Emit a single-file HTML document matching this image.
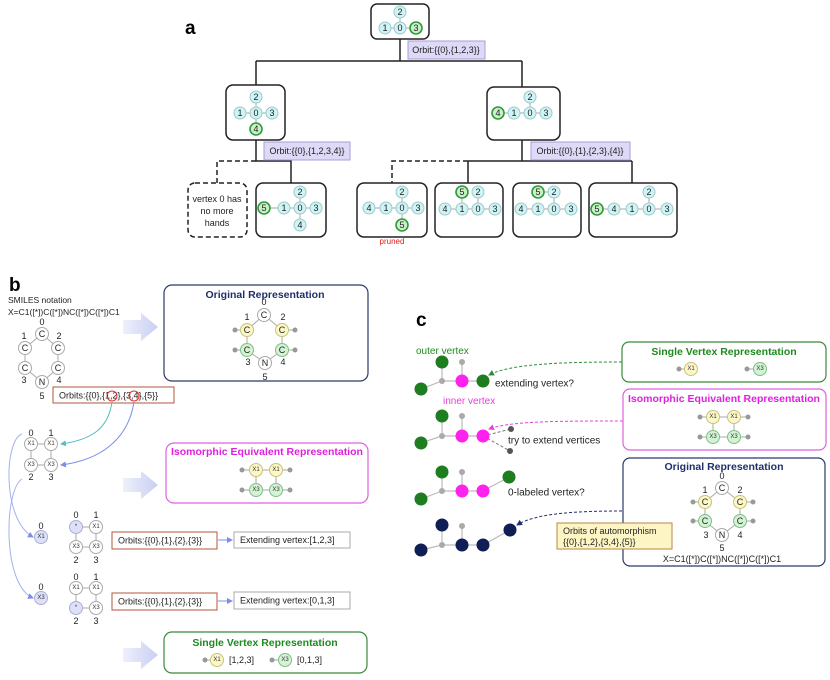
<!DOCTYPE html>
<html><head><meta charset="utf-8"><style>
body{margin:0;background:#fff}
svg{display:block;font-family:"Liberation Sans",sans-serif}
.n{fill:#cff4f6;stroke:#9cc9cd;stroke-width:1}
.g{fill:#c9f0c9;stroke:#2f9a3a;stroke-width:1.6}
.w{fill:#fff;stroke:#aaa;stroke-width:1}
.y{fill:#fbf7c8;stroke:#c8c27a;stroke-width:1}
.gr{fill:#d4f2d4;stroke:#7fbf86;stroke-width:1}
.lv{fill:#dde0f7;stroke:#a9afd8;stroke-width:1}
.t{font-size:9px;fill:#222;text-anchor:middle;dominant-baseline:central}
.s{font-size:6px;fill:#333;text-anchor:middle;dominant-baseline:central}
.e{stroke:#aaa;stroke-width:1;fill:none}
.k{stroke:#222;stroke-width:1.5;fill:none}
.bx{fill:#fff;stroke:#222;stroke-width:1.5}
.d{fill:#999}
</style></head><body>
<svg width="830" height="680" viewBox="0 0 830 680">
<defs>
<linearGradient id="ag" x1="0" x2="1"><stop offset="0" stop-color="#eef0fb"/><stop offset="1" stop-color="#c9cff3"/></linearGradient>
<marker id="mt" markerWidth="6" markerHeight="6" refX="5" refY="3" orient="auto"><path d="M0,0L6,3L0,6z" fill="#5bbcbc"/></marker>
<marker id="mb" markerWidth="6" markerHeight="6" refX="5" refY="3" orient="auto"><path d="M0,0L6,3L0,6z" fill="#7b8de8"/></marker>
<marker id="mg" markerWidth="6" markerHeight="6" refX="5" refY="3" orient="auto"><path d="M0,0L6,3L0,6z" fill="#2e8b3a"/></marker>
<marker id="mm" markerWidth="6" markerHeight="6" refX="5" refY="3" orient="auto"><path d="M0,0L6,3L0,6z" fill="#e83ee0"/></marker>
<marker id="mn" markerWidth="6" markerHeight="6" refX="5" refY="3" orient="auto"><path d="M0,0L6,3L0,6z" fill="#1f2f6b"/></marker>
</defs>

<!-- PANEL A -->
<text x="185" y="34" font-size="19" font-weight="bold">a</text>
<path class="k" d="M400,39V61M256,61H522M256,61V85M522,61V87"/>
<path class="k" d="M256,140V161H291V183M522,140V161M468,161H632M468,161V183M632,161V183"/>
<path class="k" stroke-dasharray="5,3" d="M256,161H217V183M468,161H392V183"/>
<rect class="bx" x="371" y="4" width="58" height="35" rx="6"/>
<rect x="408" y="41" width="77" height="18" fill="#ddd9f6" stroke="#a89ed8"/>
<text x="446" y="50" class="t">Orbit:{{0},{1,2,3}}</text>
<rect class="bx" x="226" y="85" width="59" height="55" rx="7"/>
<rect class="bx" x="487" y="87" width="73" height="53" rx="7"/>
<rect x="264" y="142" width="86" height="18" fill="#ddd9f6" stroke="#a89ed8"/>
<text x="307" y="151" class="t">Orbit:{{0},{1,2,3,4}}</text>
<rect x="531" y="142" width="99" height="18" fill="#ddd9f6" stroke="#a89ed8"/>
<text x="580" y="151" class="t">Orbit:{{0},{1},{2,3},{4}}</text>
<rect x="188" y="183" width="59" height="54" rx="7" fill="#fff" stroke="#222" stroke-width="1.5" stroke-dasharray="5,3"/>
<text x="217" y="199" class="t">vertex 0 has</text><text x="217" y="211" class="t">no more</text><text x="217" y="223" class="t">hands</text>
<rect class="bx" x="256" y="183" width="70" height="54" rx="7"/>
<rect class="bx" x="357" y="183" width="70" height="54" rx="7"/>
<rect class="bx" x="435" y="183" width="68" height="54" rx="7"/>
<rect class="bx" x="513" y="183" width="68" height="54" rx="7"/>
<rect class="bx" x="589" y="183" width="88" height="54" rx="7"/>
<text x="392" y="244" font-size="8" fill="#e02020" text-anchor="middle">pruned</text>
<!-- edges a -->
<path class="e" d="M385,28H416M400,12V28 M240,113H272M256,97V129 M498,113H546M530,97V113 M264,208H316M300,192V225 M369,208H418M402,192V225 M445,209H495M462,192V209M478,192V209 M521,209H571M538,192H554M554,192V209 M597,209H667M649,192V209"/>
<g>
<circle class="n" cx="400" cy="12" r="6"/><text class="t" x="400" y="12">2</text>
<circle class="n" cx="385" cy="28" r="6"/><text class="t" x="385" y="28">1</text>
<circle class="n" cx="400" cy="28" r="6"/><text class="t" x="400" y="28">0</text>
<circle class="g" cx="416" cy="28" r="6"/><text class="t" x="416" y="28">3</text>
<circle class="n" cx="256" cy="97" r="6"/><text class="t" x="256" y="97">2</text>
<circle class="n" cx="240" cy="113" r="6"/><text class="t" x="240" y="113">1</text>
<circle class="n" cx="256" cy="113" r="6"/><text class="t" x="256" y="113">0</text>
<circle class="n" cx="272" cy="113" r="6"/><text class="t" x="272" y="113">3</text>
<circle class="g" cx="256" cy="129" r="6"/><text class="t" x="256" y="129">4</text>
<circle class="n" cx="530" cy="97" r="6"/><text class="t" x="530" y="97">2</text>
<circle class="g" cx="498" cy="113" r="6"/><text class="t" x="498" y="113">4</text>
<circle class="n" cx="514" cy="113" r="6"/><text class="t" x="514" y="113">1</text>
<circle class="n" cx="530" cy="113" r="6"/><text class="t" x="530" y="113">0</text>
<circle class="n" cx="546" cy="113" r="6"/><text class="t" x="546" y="113">3</text>
<circle class="n" cx="300" cy="192" r="6"/><text class="t" x="300" y="192">2</text>
<circle class="g" cx="264" cy="208" r="6"/><text class="t" x="264" y="208">5</text>
<circle class="n" cx="284" cy="208" r="6"/><text class="t" x="284" y="208">1</text>
<circle class="n" cx="300" cy="208" r="6"/><text class="t" x="300" y="208">0</text>
<circle class="n" cx="316" cy="208" r="6"/><text class="t" x="316" y="208">3</text>
<circle class="n" cx="300" cy="225" r="6"/><text class="t" x="300" y="225">4</text>
<circle class="n" cx="402" cy="192" r="6"/><text class="t" x="402" y="192">2</text>
<circle class="n" cx="369" cy="208" r="6"/><text class="t" x="369" y="208">4</text>
<circle class="n" cx="386" cy="208" r="6"/><text class="t" x="386" y="208">1</text>
<circle class="n" cx="402" cy="208" r="6"/><text class="t" x="402" y="208">0</text>
<circle class="n" cx="418" cy="208" r="6"/><text class="t" x="418" y="208">3</text>
<circle class="g" cx="402" cy="225" r="6"/><text class="t" x="402" y="225">5</text>
<circle class="g" cx="462" cy="192" r="6"/><text class="t" x="462" y="192">5</text>
<circle class="n" cx="478" cy="192" r="6"/><text class="t" x="478" y="192">2</text>
<circle class="n" cx="445" cy="209" r="6"/><text class="t" x="445" y="209">4</text>
<circle class="n" cx="462" cy="209" r="6"/><text class="t" x="462" y="209">1</text>
<circle class="n" cx="478" cy="209" r="6"/><text class="t" x="478" y="209">0</text>
<circle class="n" cx="495" cy="209" r="6"/><text class="t" x="495" y="209">3</text>
<circle class="g" cx="538" cy="192" r="6"/><text class="t" x="538" y="192">5</text>
<circle class="n" cx="554" cy="192" r="6"/><text class="t" x="554" y="192">2</text>
<circle class="n" cx="521" cy="209" r="6"/><text class="t" x="521" y="209">4</text>
<circle class="n" cx="538" cy="209" r="6"/><text class="t" x="538" y="209">1</text>
<circle class="n" cx="554" cy="209" r="6"/><text class="t" x="554" y="209">0</text>
<circle class="n" cx="571" cy="209" r="6"/><text class="t" x="571" y="209">3</text>
<circle class="n" cx="649" cy="192" r="6"/><text class="t" x="649" y="192">2</text>
<circle class="g" cx="597" cy="209" r="6"/><text class="t" x="597" y="209">5</text>
<circle class="n" cx="614" cy="209" r="6"/><text class="t" x="614" y="209">4</text>
<circle class="n" cx="632" cy="209" r="6"/><text class="t" x="632" y="209">1</text>
<circle class="n" cx="649" cy="209" r="6"/><text class="t" x="649" y="209">0</text>
<circle class="n" cx="667" cy="209" r="6"/><text class="t" x="667" y="209">3</text>
</g>

<!-- PANEL B -->
<text x="9" y="291" font-size="19" font-weight="bold">b</text>
<text x="8" y="303" font-size="8.5" fill="#222">SMILES notation</text>
<text x="8" y="315" font-size="8.5" fill="#222">X=C1([*])C([*])NC([*])C([*])C1</text>
<path class="e" d="M42,334L25,348V368L42,382L58,368V348Z"/>
<circle class="w" cx="42" cy="334" r="6.5"/><text class="t" x="42" y="334">C</text>
<circle class="w" cx="25" cy="348" r="6.5"/><text class="t" x="25" y="348">C</text>
<circle class="w" cx="58" cy="348" r="6.5"/><text class="t" x="58" y="348">C</text>
<circle class="w" cx="25" cy="368" r="6.5"/><text class="t" x="25" y="368">C</text>
<circle class="w" cx="58" cy="368" r="6.5"/><text class="t" x="58" y="368">C</text>
<circle class="w" cx="42" cy="382" r="6.5"/><text class="t" x="42" y="382">N</text>
<text class="t" x="42" y="322">0</text><text class="t" x="24" y="336">1</text><text class="t" x="59" y="336">2</text><text class="t" x="24" y="380">3</text><text class="t" x="59" y="380">4</text><text class="t" x="42" y="396">5</text>
<rect x="53" y="387" width="121" height="16" fill="#fff" stroke="#b5553a"/>
<text x="59" y="395.5" font-size="9" fill="#222" dominant-baseline="central">Orbits:{{0},{1,2},{3,4},{5}}</text>
<circle cx="112" cy="396" r="5" fill="none" stroke="#e03030"/>
<circle cx="134" cy="396" r="5" fill="none" stroke="#e03030"/>
<path d="M123,320H141V313L158,327L141,341V334H123Z" fill="url(#ag)"/>
<path d="M123,478H141V471L158,485L141,499V492H123Z" fill="url(#ag)"/>
<path d="M123,648H141V641L158,655L141,669V662H123Z" fill="url(#ag)"/>
<rect x="164" y="285" width="204" height="96" rx="8" fill="#fff" stroke="#2a3a6a" stroke-width="1.2"/>
<text x="265" y="298" font-size="10.5" font-weight="bold" fill="#1f2f6b" text-anchor="middle">Original Representation</text>
<path class="e" d="M264,315L247,330V350L265,363L282,350V330Z M235,330H247M282,330H295M235,350H247M282,350H295"/>
<circle class="d" cx="235" cy="330" r="2.5"/><circle class="d" cx="295" cy="330" r="2.5"/><circle class="d" cx="235" cy="350" r="2.5"/><circle class="d" cx="295" cy="350" r="2.5"/>
<circle class="w" cx="264" cy="315" r="6.5"/><text class="t" x="264" y="315">C</text>
<circle class="y" cx="247" cy="330" r="6.5"/><text class="t" x="247" y="330">C</text>
<circle class="y" cx="282" cy="330" r="6.5"/><text class="t" x="282" y="330">C</text>
<circle class="gr" cx="247" cy="350" r="6.5"/><text class="t" x="247" y="350">C</text>
<circle class="gr" cx="282" cy="350" r="6.5"/><text class="t" x="282" y="350">C</text>
<circle class="w" cx="265" cy="363" r="6.5"/><text class="t" x="265" y="363">N</text>
<text class="t" x="264" y="302">0</text><text class="t" x="247" y="317">1</text><text class="t" x="283" y="317">2</text><text class="t" x="248" y="362">3</text><text class="t" x="283" y="362">4</text><text class="t" x="265" y="377">5</text>
<!-- curves -->
<path d="M112,402C108,430 90,440 61,444" fill="none" stroke="#5bbcbc" stroke-width="1" marker-end="url(#mt)"/>
<path d="M134,402C128,440 100,460 61,465" fill="none" stroke="#7b8de8" stroke-width="1" marker-end="url(#mb)"/>
<path d="M22,434C4,440 2,520 33,537" fill="none" stroke="#a3b0f0" stroke-width="1" marker-end="url(#mb)"/>
<path d="M22,479C4,490 2,585 33,598" fill="none" stroke="#a3b0f0" stroke-width="1" marker-end="url(#mb)"/>
<!-- small graph -->
<path class="e" d="M31,444H51M31,465H51M31,444V465M51,444V465"/>
<circle class="w" cx="31" cy="444" r="6.5"/><text class="s" x="31" y="444">X1</text>
<circle class="w" cx="51" cy="444" r="6.5"/><text class="s" x="51" y="444">X1</text>
<circle class="w" cx="31" cy="465" r="6.5"/><text class="s" x="31" y="465">X3</text>
<circle class="w" cx="51" cy="465" r="6.5"/><text class="s" x="51" y="465">X3</text>
<text class="t" x="31" y="433">0</text><text class="t" x="51" y="433">1</text><text class="t" x="31" y="477">2</text><text class="t" x="51" y="477">3</text>
<!-- iso box -->
<rect x="166" y="443" width="202" height="60" rx="8" fill="#fff" stroke="#e060e0" stroke-width="1.2"/>
<text x="267" y="455" font-size="10.5" font-weight="bold" fill="#e020e0" text-anchor="middle">Isomorphic Equivalent Representation</text>
<path class="e" d="M242,470H290M242,490H290M256,470V490M276,470V490"/>
<circle class="d" cx="242" cy="470" r="2.5"/><circle class="d" cx="290" cy="470" r="2.5"/><circle class="d" cx="242" cy="490" r="2.5"/><circle class="d" cx="290" cy="490" r="2.5"/>
<circle class="y" cx="256" cy="470" r="6.5"/><text class="s" x="256" y="470">X1</text>
<circle class="y" cx="276" cy="470" r="6.5"/><text class="s" x="276" y="470">X1</text>
<circle class="gr" cx="256" cy="490" r="6.5"/><text class="s" x="256" y="490">X3</text>
<circle class="gr" cx="276" cy="490" r="6.5"/><text class="s" x="276" y="490">X3</text>
<!-- row1 -->
<text class="t" x="41" y="526">0</text>
<circle class="lv" cx="41" cy="537" r="6.5"/><text class="s" x="41" y="537">X1</text>
<path class="e" d="M76,527H96M76,547H96M76,527V547M96,527V547"/>
<circle class="lv" cx="76" cy="527" r="6.5"/><text class="s" x="76" y="527">*</text>
<circle class="w" cx="96" cy="527" r="6.5"/><text class="s" x="96" y="527">X1</text>
<circle class="w" cx="76" cy="547" r="6.5"/><text class="s" x="76" y="547">X3</text>
<circle class="w" cx="96" cy="547" r="6.5"/><text class="s" x="96" y="547">X3</text>
<text class="t" x="76" y="515">0</text><text class="t" x="96" y="515">1</text><text class="t" x="76" y="560">2</text><text class="t" x="96" y="560">3</text>
<rect x="112" y="532" width="105" height="17" fill="#fff" stroke="#b5553a"/>
<text x="118" y="540.5" font-size="9" fill="#222" dominant-baseline="central">Orbits:{{0},{1},{2},{3}}</text>
<path d="M218,540H232" stroke="#7b8de8" marker-end="url(#mb)"/>
<rect x="234" y="532" width="116" height="16" fill="#fff" stroke="#aaa"/>
<text x="240" y="540" font-size="9" fill="#222" dominant-baseline="central">Extending vertex:[1,2,3]</text>
<!-- row2 -->
<text class="t" x="41" y="587">0</text>
<circle class="lv" cx="41" cy="598" r="6.5"/><text class="s" x="41" y="598">X3</text>
<path class="e" d="M76,588H96M76,608H96M76,588V608M96,588V608"/>
<circle class="w" cx="76" cy="588" r="6.5"/><text class="s" x="76" y="588">X1</text>
<circle class="w" cx="96" cy="588" r="6.5"/><text class="s" x="96" y="588">X1</text>
<circle class="lv" cx="76" cy="608" r="6.5"/><text class="s" x="76" y="608">*</text>
<circle class="w" cx="96" cy="608" r="6.5"/><text class="s" x="96" y="608">X3</text>
<text class="t" x="76" y="577">0</text><text class="t" x="96" y="577">1</text><text class="t" x="76" y="621">2</text><text class="t" x="96" y="621">3</text>
<rect x="112" y="593" width="105" height="17" fill="#fff" stroke="#b5553a"/>
<text x="118" y="601.5" font-size="9" fill="#222" dominant-baseline="central">Orbits:{{0},{1},{2},{3}}</text>
<path d="M218,601H232" stroke="#7b8de8" marker-end="url(#mb)"/>
<rect x="234" y="592" width="116" height="17" fill="#fff" stroke="#aaa"/>
<text x="240" y="600.5" font-size="9" fill="#222" dominant-baseline="central">Extending vertex:[0,1,3]</text>
<!-- single vertex b -->
<rect x="164" y="632" width="203" height="41" rx="8" fill="#fff" stroke="#3a8a3a" stroke-width="1.2"/>
<text x="265" y="646" font-size="10.5" font-weight="bold" fill="#1f8a1f" text-anchor="middle">Single Vertex Representation</text>
<path class="e" d="M205,660H217M272,660H285"/>
<circle class="d" cx="205" cy="660" r="2.5"/><circle class="d" cx="272" cy="660" r="2.5"/>
<circle class="y" cx="217" cy="660" r="6.5"/><text class="s" x="217" y="660">X1</text>
<circle class="gr" cx="285" cy="660" r="6.5"/><text class="s" x="285" y="660">X3</text>
<text x="229" y="660" font-size="9" fill="#222" dominant-baseline="central">[1,2,3]</text>
<text x="297" y="660" font-size="9" fill="#222" dominant-baseline="central">[0,1,3]</text>

<!-- PANEL C -->
<text x="416" y="326" font-size="19" font-weight="bold">c</text>
<text x="416" y="354" font-size="10" fill="#1f8a1f">outer vertex</text>
<text x="443" y="404" font-size="10" fill="#e83ee0">inner vertex</text>
<path stroke="#bbb" stroke-width="1.2" fill="none" d="M421,389L442,381V362M442,381H483M462,381V362 M421,443L442,436V416M442,436H483M462,436V416 M421,499L442,491V472M442,491H483L509,477M462,491V472 M421,550L442,545V525M442,545H483L510,530M462,545V526"/>
<path stroke="#777" stroke-width="1" stroke-dasharray="3,2" fill="none" d="M483,436L511,429M483,436L510,451"/>
<g fill="#1e7d1e"><circle cx="442" cy="362" r="6.5"/><circle cx="421" cy="389" r="6.5"/><circle cx="483" cy="381" r="6.5"/>
<circle cx="442" cy="416" r="6.5"/><circle cx="421" cy="443" r="6.5"/>
<circle cx="442" cy="472" r="6.5"/><circle cx="421" cy="499" r="6.5"/><circle cx="509" cy="477" r="6.5"/></g>
<g fill="#ff22ee"><circle cx="462" cy="381" r="6.5"/><circle cx="462" cy="436" r="6.5"/><circle cx="483" cy="436" r="6.5"/><circle cx="462" cy="491" r="6.5"/><circle cx="483" cy="491" r="6.5"/></g>
<g fill="#0f1f55"><circle cx="442" cy="525" r="6.5"/><circle cx="421" cy="550" r="6.5"/><circle cx="462" cy="545" r="6.5"/><circle cx="483" cy="545" r="6.5"/><circle cx="510" cy="530" r="6.5"/></g>
<g fill="#aaa"><circle cx="442" cy="381" r="3"/><circle cx="462" cy="362" r="3"/><circle cx="442" cy="436" r="3"/><circle cx="462" cy="416" r="3"/><circle cx="442" cy="491" r="3"/><circle cx="462" cy="472" r="3"/><circle cx="442" cy="545" r="3"/><circle cx="462" cy="526" r="3"/></g>
<g fill="#555"><circle cx="511" cy="429" r="3"/><circle cx="510" cy="451" r="3"/></g>
<text x="495" y="384" font-size="10" fill="#222" dominant-baseline="central">extending vertex?</text>
<text x="508" y="441" font-size="10" fill="#222" dominant-baseline="central">try to extend vertices</text>
<text x="508" y="493" font-size="10" fill="#222" dominant-baseline="central">0-labeled vertex?</text>
<path d="M622,362C560,362 510,364 489,375" fill="none" stroke="#2e8b3a" stroke-dasharray="3,2" marker-end="url(#mg)"/>
<path d="M623,421C560,421 510,421 489,429" fill="none" stroke="#e83ee0" stroke-dasharray="3,2" marker-end="url(#mm)"/>
<path d="M622,511C570,511 535,514 517,525" fill="none" stroke="#1f2f6b" stroke-dasharray="3,2" marker-end="url(#mn)"/>
<rect x="622" y="342" width="204" height="40" rx="7" fill="#fff" stroke="#3a8a3a" stroke-width="1.2"/>
<text x="724" y="355" font-size="10.5" font-weight="bold" fill="#1f8a1f" text-anchor="middle">Single Vertex Representation</text>
<path class="e" d="M679,369H691M747,369H760"/>
<circle class="d" cx="679" cy="369" r="2.5"/><circle class="d" cx="747" cy="369" r="2.5"/>
<circle class="y" cx="691" cy="369" r="6.5"/><text class="s" x="691" y="369">X1</text>
<circle class="gr" cx="760" cy="369" r="6.5"/><text class="s" x="760" y="369">X3</text>
<rect x="623" y="389" width="203" height="61" rx="7" fill="#fff" stroke="#e060e0" stroke-width="1.2"/>
<text x="724" y="402" font-size="10.5" font-weight="bold" fill="#e020e0" text-anchor="middle">Isomorphic Equivalent Representation</text>
<path class="e" d="M700,417H748M700,437H748M713,417V437M734,417V437"/>
<circle class="d" cx="700" cy="417" r="2.5"/><circle class="d" cx="748" cy="417" r="2.5"/><circle class="d" cx="700" cy="437" r="2.5"/><circle class="d" cx="748" cy="437" r="2.5"/>
<circle class="y" cx="713" cy="417" r="6.5"/><text class="s" x="713" y="417">X1</text>
<circle class="y" cx="734" cy="417" r="6.5"/><text class="s" x="734" y="417">X1</text>
<circle class="gr" cx="713" cy="437" r="6.5"/><text class="s" x="713" y="437">X3</text>
<circle class="gr" cx="734" cy="437" r="6.5"/><text class="s" x="734" y="437">X3</text>
<rect x="623" y="458" width="202" height="108" rx="7" fill="#fff" stroke="#2a3a6a" stroke-width="1.2"/>
<text x="724" y="470" font-size="10.5" font-weight="bold" fill="#1f2f6b" text-anchor="middle">Original Representation</text>
<path class="e" d="M722,488L705,502V521L722,535L740,521V502Z M693,502H705M740,502H753M693,521H705M740,521H753"/>
<circle class="d" cx="693" cy="502" r="2.5"/><circle class="d" cx="753" cy="502" r="2.5"/><circle class="d" cx="693" cy="521" r="2.5"/><circle class="d" cx="753" cy="521" r="2.5"/>
<circle class="w" cx="722" cy="488" r="6.5"/><text class="t" x="722" y="488">C</text>
<circle class="y" cx="705" cy="502" r="6.5"/><text class="t" x="705" y="502">C</text>
<circle class="y" cx="740" cy="502" r="6.5"/><text class="t" x="740" y="502">C</text>
<circle class="gr" cx="705" cy="521" r="6.5"/><text class="t" x="705" y="521">C</text>
<circle class="gr" cx="740" cy="521" r="6.5"/><text class="t" x="740" y="521">C</text>
<circle class="w" cx="722" cy="535" r="6.5"/><text class="t" x="722" y="535">N</text>
<text class="t" x="722" y="476">0</text><text class="t" x="705" y="490">1</text><text class="t" x="740" y="490">2</text><text class="t" x="706" y="535">3</text><text class="t" x="740" y="535">4</text><text class="t" x="722" y="548">5</text>
<text class="t" x="722" y="559">X=C1([*])C([*])NC([*])C([*])C1</text>
<rect x="557" y="523" width="115" height="26" fill="#fdf6c4" stroke="#b58a40"/>
<text x="563" y="531" font-size="9" fill="#222" dominant-baseline="central">Orbits of automorphism</text>
<text x="563" y="542" font-size="9" fill="#222" dominant-baseline="central">{{0},{1,2},{3,4},{5}}</text>
</svg>
</body></html>
